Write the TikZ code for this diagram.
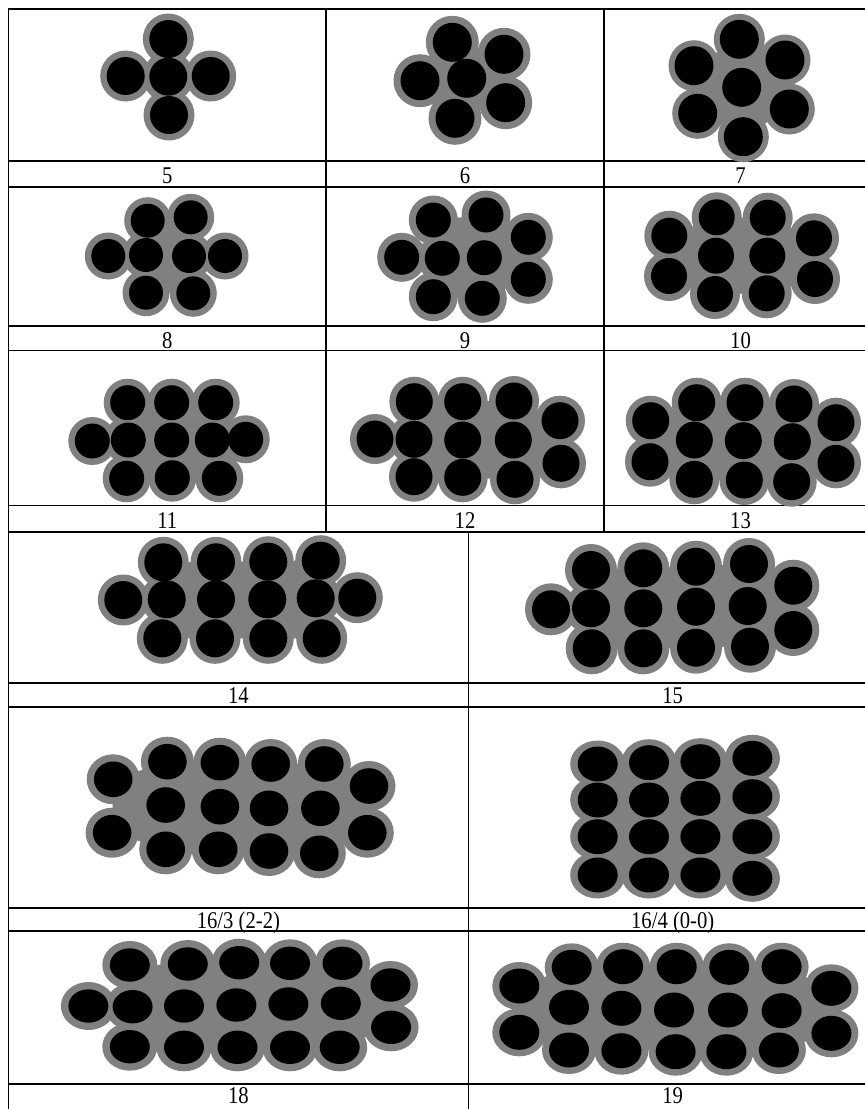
\documentclass[tikz,border=0pt]{standalone}
\usepackage{fontspec}
\setmainfont{Liberation Serif}
\tikzset{
  ring/.style={fill=gray50},
  core/.style={fill=black},
  grid/.style={line width=1.2pt, draw=black},
  lab/.style={anchor=base, inner sep=0pt, font=\fontsize{24}{24}\selectfont}
}
\definecolor{gray50}{RGB}{128,128,128}
\newcommand\lbl[1]{\scalebox{0.86}[1]{#1}}
\newcommand\bundle[3]{%
  \foreach \cx/\cy in {#3} {\fill[ring] (\cx,\cy) circle[#1];}
  \foreach \cx/\cy in {#3} {\fill[core] (\cx,\cy) circle[#2];}}
\begin{document}
\begin{tikzpicture}[x=1pt,y=-1pt]
\useasboundingbox (0,0) rectangle (865,1109);
\fill[white] (0,0) rectangle (865,1109);

% ---------- table grid ----------
\foreach \yy in {9,161,187,326,350.7,505.7,532,683,707,908,931,1084}
  {\draw[grid] (8.3,\yy) -- (866,\yy);}
\draw[grid] (8.3,9) -- (8.3,1110);
\draw[grid] (326,9) -- (326,532);
\draw[grid] (604,9) -- (604,532);
\draw[grid] (468.5,532) -- (468.5,1110);

% ---------- 5 ----------
\bundle{radius=25.5}{radius=19}{168.3/39, 125.7/76, 168.3/76.7, 210.7/76, 169/115}

% ---------- 6 ----------
\fill[ring] (452.3,42.3) -- (504,54.3) -- (505.7,102.7) -- (455,118.3) -- (420,80.7) -- cycle;
\bundle{radius=26.5}{radius=19.5}{452.3/42.3, 504/54.3, 420/80.7, 466.7/78.3, 505.7/102.7, 455/118.3}

% ---------- 7 ----------
\fill[ring] (739.3,39.3) -- (785,60) -- (789.3,109) -- (743.3,136.7) -- (697.7,113.3) -- (694,65.7) -- cycle;
\bundle{radius=25.5}{radius=19.5}{739.3/39.3, 694/65.7, 785/60, 741.7/87.3, 697.7/113.3, 789.3/109, 743.3/136.7}

% ---------- 8 ----------
\fill[ring] (147.7,220.7) -- (190.7,217.3) -- (189,256) -- (193.3,293.3) -- (146,292.7) -- (146,255) -- cycle;
\bundle{radius=23.5}{radius=17}{147.7/220.7, 190.7/217.3, 108.3/256, 146/255, 189/256, 225/256, 146/292.7, 193.3/293.3}

% ---------- 9 ----------
\fill[ring] (433.3,220) -- (486,215) -- (528.3,237.3) -- (528.3,279.3) -- (482.3,298.3) -- (433.3,296.7) -- (442.3,258.3) -- cycle;
\bundle{radius=24.5}{radius=17.5}{433.3/220, 486/215, 528.3/237.3, 401.7/257.3, 442.3/258.3, 484.3/257.7, 528.3/279.3, 433.3/296.7, 482.3/298.3}

% ---------- 10 ----------
\fill[ring] (669.3,235.7) -- (716.7,217.3) -- (767.7,217.7) -- (814,238.3) -- (815,279) -- (766.7,293.3) -- (715,294) -- (669,276) -- cycle;
\bundle{radius=25}{radius=18}{669.3/235.7, 669/276, 716.7/217.3, 716/255.7, 715/294, 767.7/217.7, 767.3/255.7, 766.7/293.3, 814/238.3, 815/279}

% ---------- 11 ----------
\fill[ring] (127.7,402.7) -- (215.7,402.7) -- (212.3,440) -- (219.3,478.3) -- (126.7,478.3) -- (128.3,440) -- cycle;
\bundle{radius=24}{radius=17.5}{127.7/402.7, 171.7/402.7, 215.7/402.7, 92.3/441, 128.3/440, 171.7/440, 212.3/440, 245.7/439.3, 126.7/478.3, 172.3/477.7, 219.3/478.3}

% ---------- 12 ----------
\fill[ring] (414.3,401.7) -- (514,401) -- (560,420.7) -- (561,463.3) -- (515,479.3) -- (414,476.7) -- (414,439.3) -- cycle;
\bundle{radius=25}{radius=18.5}{414.3/401.7, 462.7/401.7, 514/401, 560/420.7, 375/439, 414/439.3, 462.7/440, 513.3/440, 561/463.3, 414/476.7, 462.7/477.3, 515/479.3}

% ---------- 13 ----------
\fill[ring] (650.7,420.7) -- (696.7,402.7) -- (794,404) -- (836,422.7) -- (836,463.3) -- (791.7,481.7) -- (694.3,479.3) -- (650,461.7) -- cycle;
\bundle{radius=25}{radius=18.5}{650.7/420.7, 650/461.7, 696.7/402.7, 694.3/440, 694.3/479.3, 745/402.7, 743.3/440.7, 744.3/480, 794/404, 792.3/441.7, 791.7/481.7, 836/422.7, 836/463.3}

% ---------- 14 ----------
\fill[ring] (163.3,562.3) -- (320.7,560.7) -- (315.7,598.3) -- (321.7,638.3) -- (162.3,638.3) -- (166.7,599.3) -- cycle;
\bundle{radius=25.5}{radius=19}{163.3/562.3, 216/562.3, 268.3/561.7, 320.7/560.7, 123.3/600, 166.7/599.3, 216/599.3, 267.3/599.3, 315.7/598.3, 357.3/597.7, 162.3/638.3, 215/638.3, 268.3/638.3, 321.7/638.3}

% ---------- 15 ----------
\fill[ring] (591,570) -- (749,564) -- (793.3,585.7) -- (793.3,630) -- (750,646.7) -- (591.7,648.3) -- (591,608.3) -- cycle;
\bundle{radius=26}{radius=19}{551/609.3, 591/570, 643.3/568.3, 696/566.7, 749/564, 793.3/585.7, 591/608.3, 643.3/608.3, 696/606.7, 747.7/606, 793.3/630, 591.7/648.3, 643.3/648.3, 696/647.7, 750/646.7}

% ---------- 16/3 ----------
\fill[ring] (113.2,779.3) -- (167.4,761.7) -- (324.3,764) -- (369,786) -- (367.3,832.7) -- (319.3,853.3) -- (165.7,849.3) -- (112.1,832.7) -- cycle;
\bundle{x radius=26.5, y radius=25}{x radius=19.3, y radius=17.8}{113.2/779.3, 112.1/832.7, 167.4/761.7, 165.7/805, 165.7/849.3, 219.9/762.7, 219.9/806.7, 218.2/849.3, 270.7/764, 269/808.3, 269/851, 324.3/764, 320.4/808.3, 319.3/853.3, 369/786, 367.3/832.7}

% ---------- 16/4 ----------
\fill[ring] (597.7,764) -- (752.4,758.3) -- (752.4,878.3) -- (597.7,875) -- cycle;
\bundle{x radius=27.5, y radius=23.5}{x radius=20, y radius=17.5}{597.7/764, 597.7/800, 597.7/836.7, 597.7/875, 649/762.7, 649/800, 649/836.7, 649/875, 700.4/761.7, 700.4/798.3, 700.4/836.7, 700.4/875, 752.4/758.3, 752.4/796.7, 752.4/836.7, 752.4/878.3}

% ---------- 18 ----------
\fill[ring] (129.8,965) -- (342.5,963.3) -- (390.5,985) -- (391.1,1027.3) -- (339.7,1047.3) -- (129.8,1046.7) -- (132.6,1006.7) -- cycle;
\bundle{x radius=27.5, y radius=24}{x radius=20, y radius=16.7}{88.4/1006, 129.8/965, 187.8/964, 239.2/962.7, 290/963.3, 342.5/963.3, 390.5/985, 132.6/1006.7, 184/1006, 236.4/1005, 288.4/1004, 340.8/1003.3, 391.1/1027.3, 129.8/1046.7, 184/1047.3, 237.5/1047.3, 290/1047.3, 339.7/1047.3}

% ---------- 19 ----------
\fill[ring] (519.3,986) -- (571.7,967.3) -- (781.6,966.7) -- (831.4,988.3) -- (831.4,1033.3) -- (778.9,1050) -- (569,1050) -- (519.3,1032.3) -- cycle;
\bundle{x radius=27, y radius=24}{x radius=20, y radius=17.5}{519.3/986, 519.3/1032.3, 571.7/967.3, 623.1/966.7, 676.7/966.7, 729.2/967.3, 781.6/966.7, 569/1007.3, 621.4/1008.3, 674/1010, 728/1010, 781.6/1010.7, 569/1050, 621.4/1050.7, 675.6/1051.7, 726.4/1051.7, 778.9/1050, 831.4/988.3, 831.4/1033.3}

% ---------- labels ----------
\node[lab] (l5)  at (167.2,183.3) {\lbl{5}};
\node[lab] (l6)  at (465,183.3)   {\lbl{6}};
\node[lab] (l7)  at (740.5,183.3) {\lbl{7}};
\node[lab] (l8)  at (167.2,348.5) {\lbl{8}};
\node[lab] (l9)  at (465,348.5)   {\lbl{9}};
\node[lab] (l10) at (740.5,348.5) {\lbl{10}};
\node[lab] (l11) at (167.2,528)   {\lbl{11}};
\node[lab] (l12) at (465,528)     {\lbl{12}};
\node[lab] (l13) at (740.5,528)   {\lbl{13}};
\node[lab] (l14) at (238.4,703.5) {\lbl{14}};
\node[lab] (l15) at (672.7,703.5) {\lbl{15}};
\node[lab] (l163) at (238.4,928.3) {\lbl{16/3 (2-2)}};
\node[lab] (l164) at (672.7,928.3) {\lbl{16/4 (0-0)}};
\node[lab] (l18) at (238.4,1103.3) {\lbl{18}};
\node[lab] (l19) at (672.7,1103.3) {\lbl{19}};
\end{tikzpicture}
\end{document}
